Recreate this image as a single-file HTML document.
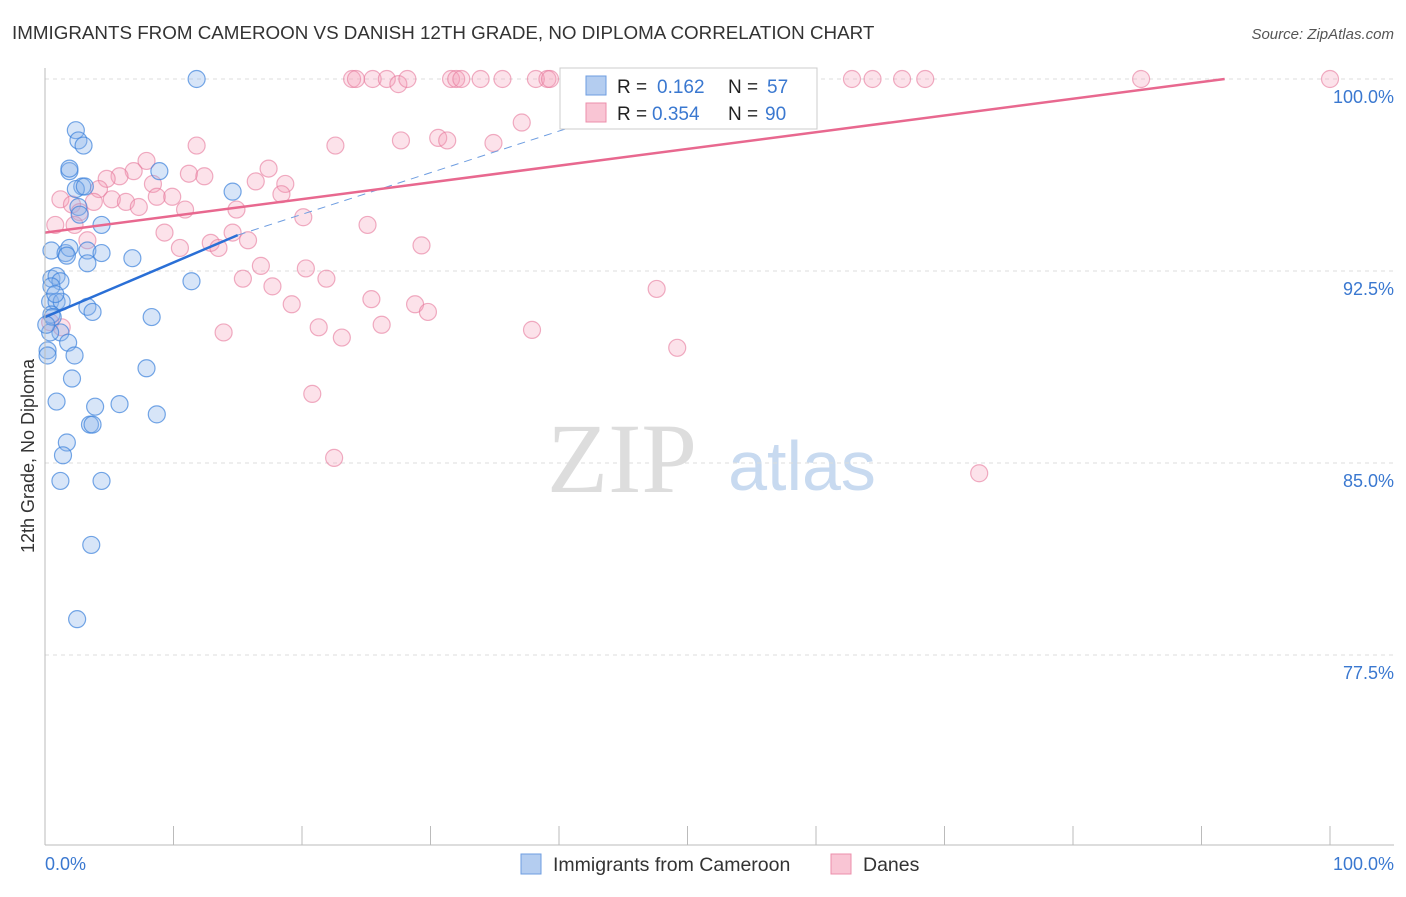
<!DOCTYPE html>
<html><head><meta charset="utf-8"><style>
body{margin:0;background:#fff;font-family:"Liberation Sans",sans-serif;}
</style></head><body>
<svg id="c" width="1406" height="892" xmlns="http://www.w3.org/2000/svg" font-family="Liberation Sans, sans-serif">
<text x="12" y="39" font-size="18.8" fill="#333">IMMIGRANTS FROM CAMEROON VS DANISH 12TH GRADE, NO DIPLOMA CORRELATION CHART</text>
<text x="1394" y="39" font-size="15" fill="#555" font-style="italic" text-anchor="end">Source: ZipAtlas.com</text>
<text x="622" y="492" font-size="100" fill="#ddd" font-family="Liberation Serif, serif" text-anchor="middle">ZIP</text>
<text x="802" y="490" font-size="70" fill="#c8daf0" text-anchor="middle">atlas</text>
<g id="grid"></g><g id="pts"></g><g id="lines"></g>
<line x1="45" y1="68" x2="45" y2="845" stroke="#bbb"/>
<line x1="45" y1="845" x2="1394" y2="845" stroke="#bbb"/>
<text x="34" y="456" font-size="18" fill="#333" transform="rotate(-90 34 456)" text-anchor="middle">12th Grade, No Diploma</text>
<text x="45" y="870" font-size="18" fill="#3a78d0">0.0%</text>
<text x="1394" y="870" font-size="18" fill="#3a78d0" text-anchor="end">100.0%</text>
<g>
<rect x="560" y="68" width="257" height="61" fill="#fff" stroke="#ccc"/>
<rect x="586" y="76" width="20" height="19" fill="#b4cdf0" stroke="#6e9de0"/>
<rect x="586" y="103" width="20" height="19" fill="#f9c5d4" stroke="#ec8fab"/>
<text x="617" y="93" font-size="19" fill="#222">R = </text><text x="657" y="93" font-size="19" fill="#3a78d0">0.162</text>
<text x="728" y="93" font-size="19" fill="#222">N = </text><text x="767" y="93" font-size="19" fill="#3a78d0">57</text>
<text x="617" y="120" font-size="19" fill="#222">R = </text><text x="652" y="120" font-size="19" fill="#3a78d0">0.354</text>
<text x="728" y="120" font-size="19" fill="#222">N = </text><text x="765" y="120" font-size="19" fill="#3a78d0">90</text>
</g>
<g>
<rect x="521" y="854" width="20" height="20" fill="#b4cdf0" stroke="#6e9de0"/>
<text x="553" y="871" font-size="19.5" fill="#333">Immigrants from Cameroon</text>
<rect x="831" y="854" width="20" height="20" fill="#f9c5d4" stroke="#ec8fab"/>
<text x="863" y="871" font-size="19.5" fill="#333">Danes</text>
</g>
</svg>
<script>
const yTicks=[100,92.5,85,77.5];
const yTickLabels=["100.0%","92.5%","85.0%","77.5%"];
const xTicks=[0,10,20,30,40,50,60,70,80,90,100];
const blueX=[11.8,2.4,2.6,3.0,1.9,1.9,2.9,2.4,3.1,8.9,14.6,2.6,4.4,0.5,1.6,1.9,1.7,3.3,4.4,3.3,6.8,0.5,0.9,1.2,0.5,0.4,0.9,1.3,11.4,3.3,3.7,0.5,0.6,8.3,1.2,1.8,2.3,0.2,0.2,7.9,2.1,0.9,3.9,5.8,3.5,3.7,8.7,1.7,1.4,1.2,4.4,3.6,2.5,0.4,0.8,2.7,0.1];
const blueY=[100,98.0,97.6,97.4,96.4,96.5,95.8,95.7,95.8,96.4,95.6,95.0,94.3,93.3,93.2,93.4,93.1,93.3,93.2,92.8,93.0,92.2,92.3,92.1,91.9,91.3,91.3,91.3,92.1,91.1,90.9,90.8,90.7,90.7,90.1,89.7,89.2,89.4,89.2,88.7,88.3,87.4,87.2,87.3,86.5,86.5,86.9,85.8,85.3,84.3,84.3,81.8,78.9,90.1,91.6,94.7,90.4];
const pinkX=[23.9,24.2,25.5,26.6,27.5,28.2,31.6,32.0,32.4,33.9,35.6,38.2,39.1,39.3,45.5,52.2,52.5,58.2,62.8,64.4,66.7,68.5,85.3,100,11.8,22.6,27.7,30.6,31.3,34.9,37.1,41.4,7.9,6.9,5.8,4.8,11.2,12.4,8.4,17.4,18.7,16.4,4.2,18.4,1.2,2.1,5.2,6.3,7.3,8.7,9.9,10.9,14.9,3.8,2.7,20.1,25.1,0.8,2.3,9.3,14.6,3.3,12.9,13.5,15.8,10.5,29.3,16.8,20.3,21.9,15.4,17.7,47.6,19.2,25.4,28.8,29.8,21.3,26.2,13.9,23.1,37.9,49.2,20.8,22.5,72.7,0.4,1.3];
const pinkY=[100,100,100,100,99.8,100,100,100,100,100,100,100,100,100,100,100,100,100,100,100,100,100,100,100,97.4,97.4,97.6,97.7,97.6,97.5,98.3,98.5,96.8,96.4,96.2,96.1,96.3,96.2,95.9,96.5,95.9,96.0,95.7,95.5,95.3,95.1,95.3,95.2,95.0,95.4,95.4,94.9,94.9,95.2,94.8,94.6,94.3,94.3,94.3,94.0,94.0,93.7,93.6,93.4,93.7,93.4,93.5,92.7,92.6,92.2,92.2,91.9,91.8,91.2,91.4,91.2,90.9,90.3,90.4,90.1,89.9,90.2,89.5,87.7,85.2,84.6,90.5,90.3];
const blueTrend=[0,90.7,15,93.9,52.5,100];
const pinkTrend=[0,94.0,91.8,100];
const X=v=>45+v*12.85, Y=v=>79+(100-v)*25.6;
const NS="http://www.w3.org/2000/svg";
function mk(t,a,p){const e=document.createElementNS(NS,t);for(const k in a)e.setAttribute(k,a[k]);p.appendChild(e);return e;}
const g=document.getElementById('grid');
yTicks.forEach((v,i)=>{
const l=mk('line',{x1:45,x2:1394,y1:Y(v),y2:Y(v),stroke:'#ddd','stroke-dasharray':'4 4'},g);


const t=mk('text',{x:1394,y:Y(v)+24,'font-size':18,fill:'#3a78d0','text-anchor':'end'},g);
t.textContent=yTickLabels[i];


});
xTicks.forEach(v=>{
const l=mk('line',{x1:X(v),x2:X(v),y1:826,y2:845,stroke:'#bbb'},g);


});
const p=document.getElementById('pts');
pinkX.forEach((v,i)=>{
const c=mk('circle',{cx:X(v),cy:Y(pinkY[i]),r:8.5,fill:'rgba(244,160,185,0.3)',stroke:'rgba(230,120,155,0.6)','stroke-width':1.2},p);


});
blueX.forEach((v,i)=>{
const c=mk('circle',{cx:X(v),cy:Y(blueY[i]),r:8.5,fill:'rgba(140,180,235,0.35)',stroke:'rgba(60,130,220,0.7)','stroke-width':1.2},p);


});
const L=document.getElementById('lines');
let e=mk('line',{x1:X(blueTrend[0]),y1:Y(blueTrend[1]),x2:X(blueTrend[2]),y2:Y(blueTrend[3]),stroke:'#2a6fd6','stroke-width':2.5},L);


e=mk('line',{x1:X(blueTrend[2]),y1:Y(blueTrend[3]),x2:X(blueTrend[4]),y2:Y(blueTrend[5]),stroke:'#6e9de0','stroke-width':1,'stroke-dasharray':'8 6'},L);


e=mk('line',{x1:X(pinkTrend[0]),y1:Y(pinkTrend[1]),x2:X(pinkTrend[2]),y2:Y(pinkTrend[3]),stroke:'#e8688f','stroke-width':2.5},L);


</script>
</body></html>
